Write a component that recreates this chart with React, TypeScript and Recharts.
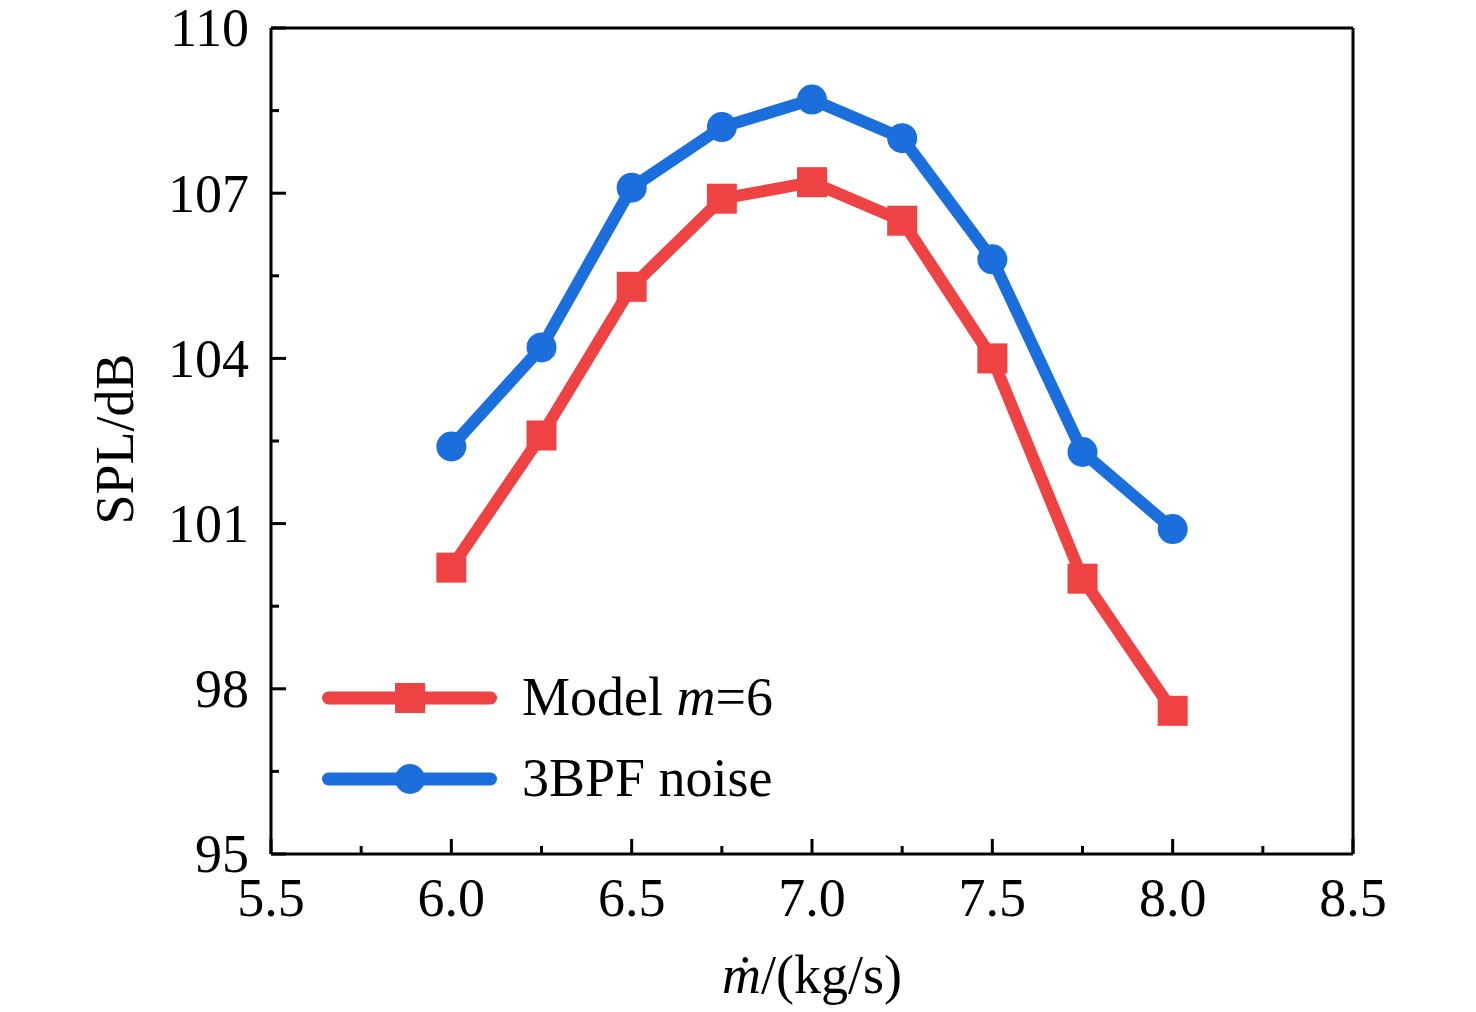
import React from 'react';
import { LineChart, Line, XAxis, YAxis, ReferenceLine, Legend } from 'recharts';

const massFlow = [6.0, 6.25, 6.5, 6.75, 7.0, 7.25, 7.5, 7.75, 8.0];
const modelSpl = [100.2, 102.6, 105.3, 106.9, 107.2, 106.5, 104.0, 100.0, 97.6];
const bpfSpl = [102.4, 104.2, 107.1, 108.2, 108.7, 108.0, 105.8, 102.3, 100.9];

const xTicks = [5.5, 5.75, 6.0, 6.25, 6.5, 6.75, 7.0, 7.25, 7.5, 7.75, 8.0, 8.25, 8.5];
const xMajor = [5.5, 6.0, 6.5, 7.0, 7.5, 8.0, 8.5];
const yTicks = [95, 96.5, 98, 99.5, 101, 102.5, 104, 105.5, 107, 108.5, 110];
const yMajor = [95, 98, 101, 104, 107, 110];

const seriesNames = { model: 'Model m=6', bpf: '3BPF noise' };
const legendOrder = ['model', 'bpf'];

const data = massFlow.map((x, i) => ({ x, model: modelSpl[i], bpf: bpfSpl[i] }));

const FONT = '"Liberation Serif", "Times New Roman", Times, serif';
const RED = '#EF4242';
const BLUE = '#1B6FDC';
const FS = 54;

const isMajor = (v: number, list: number[]) => list.some((m) => Math.abs(m - v) < 1e-6);

const XTick = (props: any) => {
  const { x, y, payload } = props;
  const v = payload.value as number;
  const major = isMajor(v, xMajor);
  return (
    <g>
      <line x1={x} x2={x} y1={y} y2={y - (major ? 15 : 8)} stroke="#000" strokeWidth={3} />
      {major && (
        <text x={x} y={y + 62} textAnchor="middle" fontSize={FS} fontFamily={FONT} fill="#000">
          {v.toFixed(1)}
        </text>
      )}
    </g>
  );
};

const YTick = (props: any) => {
  const { x, y, payload } = props;
  const v = payload.value as number;
  const major = isMajor(v, yMajor);
  return (
    <g>
      <line x1={x} x2={x + (major ? 15 : 8)} y1={y} y2={y} stroke="#000" strokeWidth={3} />
      {major && (
        <text x={x - 22} y={y} dy="0.34em" textAnchor="end" fontSize={FS} fontFamily={FONT} fill="#000">
          {String(v)}
        </text>
      )}
    </g>
  );
};

const XLabel = (props: any) => {
  const vb = props.viewBox || { x: 271, y: 854, width: 1082 };
  const cx = vb.x + vb.width / 2;
  return (
    <text x={cx} y={vb.y + 139} textAnchor="middle" fontSize={FS} fontFamily={FONT} fill="#000">
      <tspan fontStyle="italic">ṁ</tspan>
      <tspan>/(kg/s)</tspan>
    </text>
  );
};

const YLabel = (props: any) => {
  const vb = props.viewBox || { x: 171, y: 28, height: 826 };
  const cy = vb.y + vb.height / 2;
  return (
    <text
      transform={`translate(133, ${cy - 2}) rotate(-90)`}
      textAnchor="middle"
      fontSize={FS}
      fontFamily={FONT}
      fill="#000"
    >
      SPL/dB
    </text>
  );
};

const renderSquare = (p: any) => {
  const { cx, cy, index } = p;
  if (cx == null || cy == null) return <g key={`s${index}`} />;
  return <rect key={`s${index}`} x={cx - 15} y={cy - 15} width={30} height={30} fill={RED} />;
};

const renderCircle = (p: any) => {
  const { cx, cy, index } = p;
  if (cx == null || cy == null) return <g key={`c${index}`} />;
  return <circle key={`c${index}`} cx={cx} cy={cy} r={15} fill={BLUE} />;
};

const renderLegend = (props: any) => {
  const payload = [...(props.payload || [])].sort(
    (a: any, b: any) => legendOrder.indexOf(a.dataKey) - legendOrder.indexOf(b.dataKey)
  );
  return (
    <svg width={500} height={170} style={{ display: 'block', overflow: 'visible' }}>
      {payload.map((entry: any, i: number) => {
        const key = entry.dataKey as string;
        const color = entry.color;
        const ly = 48 + i * 81;
        const ty = 65 + i * 81;
        return (
          <g key={key}>
            <line x1={16.5} x2={178.5} y1={ly} y2={ly} stroke={color} strokeWidth={13} strokeLinecap="round" />
            {key === 'model' ? (
              <rect x={98 - 15} y={ly - 15} width={30} height={30} fill={color} />
            ) : (
              <circle cx={98} cy={ly} r={15} fill={color} />
            )}
            <text x={210} y={ty} fontSize={FS} fontFamily={FONT} fill="#000">
              {key === 'model' ? (
                <>
                  <tspan>Model </tspan>
                  <tspan fontStyle="italic">m</tspan>
                  <tspan>=6</tspan>
                </>
              ) : (
                entry.value
              )}
            </text>
          </g>
        );
      })}
    </svg>
  );
};

export default function App() {
  return (
    <div style={{ position: 'absolute', left: 0, top: 0, width: 1476, height: 1012, background: '#fff' }}>
      <LineChart
        width={1476}
        height={1012}
        data={data}
        margin={{ top: 28, right: 123, bottom: 98, left: 171 }}
      >
        <XAxis
          dataKey="x"
          type="number"
          domain={[5.5, 8.5]}
          ticks={xTicks}
          interval={0}
          allowDataOverflow
          height={60}
          tickSize={0}
          tickMargin={0}
          tickLine={false}
          axisLine={{ stroke: '#000', strokeWidth: 3 }}
          tick={<XTick />}
          label={<XLabel />}
        />
        <YAxis
          type="number"
          domain={[95, 110]}
          ticks={yTicks}
          interval={0}
          allowDataOverflow
          width={100}
          tickSize={0}
          tickMargin={0}
          tickLine={false}
          axisLine={{ stroke: '#000', strokeWidth: 3 }}
          tick={<YTick />}
          label={<YLabel />}
        />
        <ReferenceLine y={110} stroke="#000" strokeWidth={3} />
        <ReferenceLine x={8.5} stroke="#000" strokeWidth={3} />
        <Line
          dataKey="model"
          name={seriesNames.model}
          stroke={RED}
          strokeWidth={12}
          strokeLinejoin="round"
          dot={renderSquare}
          activeDot={false}
          isAnimationActive={false}
        />
        <Line
          dataKey="bpf"
          name={seriesNames.bpf}
          stroke={BLUE}
          strokeWidth={12}
          strokeLinejoin="round"
          dot={renderCircle}
          activeDot={false}
          isAnimationActive={false}
        />
        <Legend
          layout="vertical"
          align="center"
          verticalAlign="middle"
          content={renderLegend}
          wrapperStyle={{ position: 'absolute', left: 312, top: 650, width: 500, height: 170 }}
        />
      </LineChart>
    </div>
  );
}
